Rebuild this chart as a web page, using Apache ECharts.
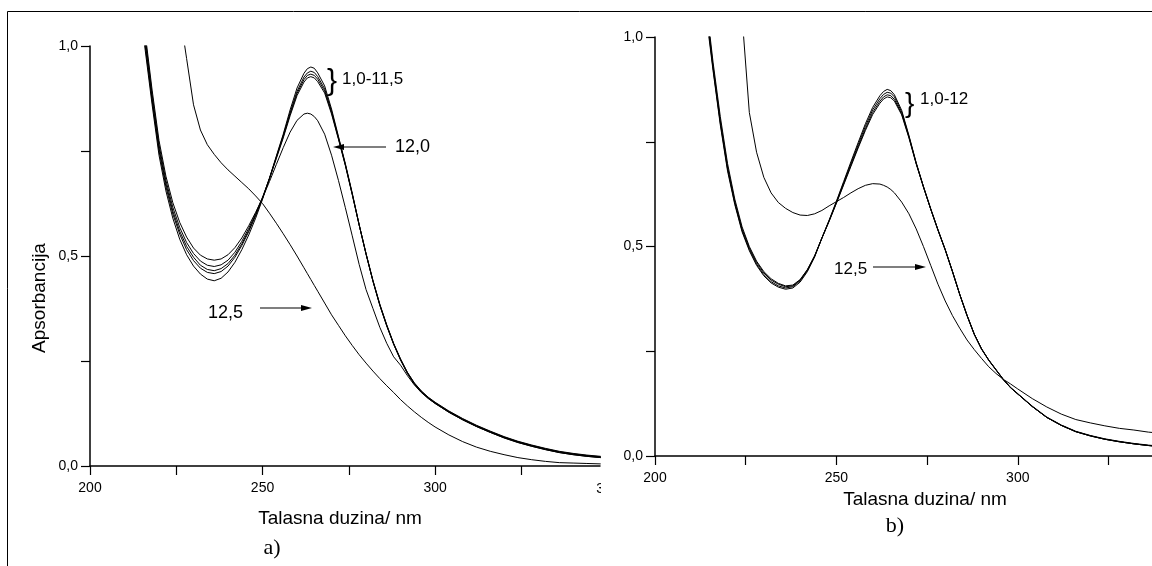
<!DOCTYPE html>
<html><head><meta charset="utf-8">
<script src="https://cdn.jsdelivr.net/npm/echarts@6/dist/echarts.min.js"></script>
<style>html,body{margin:0;padding:0;background:#fff}#c{width:1152px;height:566px}</style>
</head><body><div id="c"></div>
<script>
// wavelengths (nm)
const WAVELENGTH = [212,214,216,218,220,222,224,226,228,230,232,234,236,238,240,242,244,246,248,250,252,254,256,258,260,262,263,264,265,266,268,270,272,274,276,278,280,282,284,286,288,290,292,294,296,298,300,304,308,312,316,320,324,328,332,336,340,344,348];
const X_TICKS = [200,225,250,275,300,325];
const X_LABELS = [200,250,300];
const Y_TICKS = [0,0.25,0.5,0.75,1];
const Y_LABELS = [0,0.5,1];

// panel a) : pH 1,0-11,5 bundle
const A_BUNDLE_1 = [1.32,1.13,0.99,0.86,0.74,0.655,0.59,0.54,0.503,0.476,0.457,0.445,0.441,0.447,0.462,0.485,0.515,0.55,0.59,0.635,0.685,0.738,0.79,0.848,0.9,0.935,0.946,0.95,0.947,0.936,0.905,0.85,0.785,0.72,0.65,0.575,0.505,0.44,0.382,0.333,0.29,0.252,0.22,0.195,0.176,0.161,0.149,0.128,0.11,0.094,0.08,0.067,0.056,0.047,0.039,0.032,0.027,0.023,0.02];
const A_BUNDLE_2 = [1.34,1.14,1.0,0.87,0.75,0.665,0.6,0.552,0.515,0.489,0.471,0.461,0.458,0.463,0.476,0.497,0.525,0.558,0.596,0.637,0.685,0.736,0.787,0.842,0.892,0.926,0.936,0.94,0.937,0.927,0.898,0.845,0.782,0.718,0.648,0.574,0.504,0.44,0.383,0.334,0.29,0.253,0.221,0.196,0.177,0.162,0.15,0.129,0.111,0.095,0.081,0.068,0.057,0.048,0.04,0.033,0.028,0.024,0.021];
const A_BUNDLE_3 = [1.36,1.15,1.01,0.875,0.757,0.672,0.607,0.559,0.523,0.497,0.478,0.468,0.465,0.47,0.482,0.502,0.529,0.561,0.598,0.638,0.684,0.734,0.784,0.838,0.887,0.92,0.93,0.933,0.93,0.921,0.893,0.842,0.78,0.717,0.647,0.574,0.505,0.441,0.384,0.335,0.291,0.254,0.222,0.197,0.178,0.163,0.151,0.13,0.112,0.096,0.082,0.069,0.058,0.049,0.041,0.034,0.029,0.025,0.022];
const A_BUNDLE_4 = [1.38,1.16,1.02,0.885,0.765,0.68,0.616,0.568,0.532,0.506,0.488,0.478,0.475,0.479,0.49,0.509,0.535,0.566,0.601,0.64,0.684,0.732,0.781,0.834,0.882,0.914,0.924,0.927,0.924,0.915,0.888,0.838,0.778,0.715,0.646,0.574,0.506,0.442,0.385,0.336,0.292,0.255,0.223,0.198,0.179,0.164,0.152,0.131,0.113,0.097,0.083,0.07,0.059,0.05,0.042,0.035,0.03,0.026,0.023];
// panel a) : pH 12,0 and 12,5
const A_PH12_0 = [1.4,1.18,1.03,0.895,0.775,0.69,0.627,0.58,0.545,0.519,0.502,0.493,0.49,0.493,0.503,0.52,0.543,0.572,0.604,0.638,0.677,0.718,0.758,0.795,0.823,0.838,0.84,0.838,0.832,0.822,0.79,0.74,0.68,0.615,0.548,0.48,0.42,0.375,0.33,0.292,0.26,0.24,0.215,0.193,0.175,0.161,0.149,0.128,0.11,0.094,0.08,0.067,0.056,0.047,0.039,0.032,0.027,0.023,0.02];
const A_PH12_5 = [3.0,2.5,2.1,1.8,1.55,1.35,1.2,1.08,0.97,0.86,0.8,0.765,0.742,0.722,0.705,0.69,0.675,0.66,0.643,0.625,0.602,0.578,0.553,0.527,0.5,0.472,0.458,0.444,0.43,0.416,0.388,0.36,0.335,0.31,0.287,0.265,0.245,0.226,0.208,0.191,0.175,0.158,0.143,0.129,0.116,0.104,0.093,0.074,0.058,0.045,0.035,0.027,0.02,0.015,0.011,0.008,0.007,0.006,0.005];

// panel b) : pH 1,0-12 bundle
const B_BUNDLE_1 = [1.3,1.06,0.92,0.79,0.68,0.6,0.535,0.49,0.455,0.43,0.413,0.403,0.398,0.401,0.415,0.44,0.475,0.52,0.563,0.608,0.655,0.702,0.748,0.793,0.832,0.86,0.87,0.875,0.872,0.862,0.825,0.765,0.7,0.643,0.59,0.54,0.492,0.44,0.385,0.335,0.29,0.255,0.228,0.205,0.182,0.163,0.148,0.118,0.092,0.073,0.058,0.048,0.04,0.034,0.029,0.025,0.022,0.02,0.019];
const B_BUNDLE_2 = [1.32,1.07,0.925,0.795,0.685,0.603,0.538,0.493,0.458,0.433,0.416,0.406,0.401,0.404,0.418,0.442,0.476,0.52,0.562,0.606,0.652,0.698,0.743,0.787,0.826,0.853,0.863,0.868,0.866,0.857,0.821,0.763,0.699,0.643,0.59,0.54,0.493,0.441,0.386,0.336,0.291,0.256,0.229,0.206,0.183,0.164,0.149,0.119,0.093,0.074,0.059,0.049,0.041,0.035,0.03,0.026,0.023,0.021,0.02];
const B_BUNDLE_3 = [1.34,1.08,0.93,0.8,0.69,0.607,0.542,0.497,0.462,0.437,0.42,0.41,0.404,0.406,0.42,0.444,0.477,0.52,0.561,0.604,0.649,0.694,0.738,0.781,0.82,0.847,0.857,0.862,0.86,0.851,0.817,0.761,0.698,0.642,0.589,0.539,0.492,0.44,0.386,0.336,0.291,0.256,0.229,0.206,0.183,0.163,0.148,0.118,0.092,0.073,0.058,0.048,0.04,0.034,0.029,0.025,0.022,0.02,0.019];
const B_BUNDLE_4 = [1.36,1.09,0.94,0.81,0.698,0.613,0.547,0.5,0.465,0.44,0.423,0.412,0.406,0.408,0.421,0.445,0.478,0.52,0.56,0.603,0.647,0.691,0.735,0.777,0.815,0.842,0.852,0.857,0.855,0.847,0.814,0.759,0.697,0.642,0.589,0.539,0.492,0.44,0.386,0.336,0.291,0.256,0.229,0.206,0.183,0.163,0.148,0.118,0.092,0.073,0.058,0.048,0.04,0.034,0.029,0.025,0.022,0.02,0.019];
// panel b) : pH 12,5
const B_PH12_5 = [4,3.3,2.7,2.2,1.75,1.38,1.05,0.82,0.725,0.665,0.628,0.605,0.591,0.581,0.575,0.574,0.578,0.586,0.597,0.607,0.617,0.628,0.638,0.646,0.65,0.649,0.646,0.642,0.636,0.628,0.606,0.578,0.542,0.5,0.455,0.41,0.37,0.335,0.305,0.277,0.254,0.233,0.213,0.197,0.183,0.172,0.16,0.137,0.117,0.1,0.087,0.079,0.072,0.066,0.062,0.057,0.054,0.05,0.048];

const FONT = '"Liberation Sans", Arial, sans-serif';
const fmt = v => v.toFixed(1).replace('.', ',');

function xAxisCfg(grid, max) {
  return {
    type: 'value', gridIndex: grid, min: 200, max: max, interval: 25,
    axisLine: { show: true, onZero: false, lineStyle: { color: '#000', width: 1.5 } },
    axisTick: { show: true, length: 9, customValues: X_TICKS, lineStyle: { color: '#000', width: 1.2 } },
    axisLabel: { customValues: X_LABELS, color: '#000', fontFamily: FONT, fontSize: 14, margin: 15 },
    splitLine: { show: false }
  };
}
function yAxisCfg(grid) {
  return {
    type: 'value', gridIndex: grid, min: 0, max: 1, interval: 0.25,
    axisLine: { show: true, onZero: false, lineStyle: { color: '#000', width: 1.5 } },
    axisTick: { show: true, length: 9, customValues: Y_TICKS, lineStyle: { color: '#000', width: 1.2 } },
    axisLabel: { customValues: Y_LABELS, formatter: fmt, color: '#000', fontFamily: FONT, fontSize: 14, margin: 12 },
    splitLine: { show: false }
  };
}
function line(arr, axis) {
  return {
    type: 'line', xAxisIndex: axis, yAxisIndex: axis, showSymbol: false, clip: true, silent: true,
    lineStyle: { color: '#000', width: 1 },
    data: WAVELENGTH.map((w, i) => [w, arr[i]])
  };
}

const txt = (x, y, text, size, extra, rot) => ({
  type: 'text', x: x, y: y, rotation: rot || 0, silent: true,
  style: Object.assign({ text: text, fill: '#000', font: size + 'px ' + FONT, align: 'left', verticalAlign: 'middle' }, (extra || {}))
});
const arrow = (x1, x2, y) => {
  const dir = x2 > x1 ? 1 : -1;
  return [
    { type: 'line', silent: true, shape: { x1: x1, y1: y, x2: x2 - dir * 8, y2: y }, style: { stroke: '#000', lineWidth: 1.2 } },
    { type: 'polygon', silent: true, shape: { points: [[x2, y], [x2 - dir * 11, y - 3], [x2 - dir * 11, y + 3]] }, style: { fill: '#000' } }
  ];
};

const chart = echarts.init(document.getElementById('c'), null, { renderer: 'canvas' });
chart.setOption({
  animation: false,
  backgroundColor: '#fff',
  grid: [
    { left: 90, top: 46, width: 510, height: 420 },
    { left: 655, top: 37, width: 497, height: 419 }
  ],
  xAxis: [xAxisCfg(0, 347.8), xAxisCfg(1, 337)],
  yAxis: [yAxisCfg(0), yAxisCfg(1)],
  series: [
    line(A_BUNDLE_1, 0), line(A_BUNDLE_2, 0), line(A_BUNDLE_3, 0), line(A_BUNDLE_4, 0),
    line(A_PH12_0, 0), line(A_PH12_5, 0),
    line(B_BUNDLE_1, 1), line(B_BUNDLE_2, 1), line(B_BUNDLE_3, 1), line(B_BUNDLE_4, 1),
    line(B_PH12_5, 1)
  ],
  graphic: [
    { type: 'line', silent: true, shape: { x1: 7.5, y1: 11.5, x2: 1152, y2: 11.5 }, style: { stroke: '#000', lineWidth: 1 } },
    { type: 'line', silent: true, shape: { x1: 7.5, y1: 11.5, x2: 7.5, y2: 566 }, style: { stroke: '#000', lineWidth: 1 } },
    // truncated 350 label of panel a)
    txt(608, 489, '350', 14, { align: 'center' }),
    { type: 'rect', silent: true, shape: { x: 601, y: 476, width: 26, height: 24 }, style: { fill: '#fff' } },
    txt(40, 298, 'Apsorbancija', 19, { align: 'center' }, Math.PI / 2),
    txt(340, 519, 'Talasna duzina/ nm', 19, { align: 'center' }),
    txt(272, 548, 'a)', 22, { align: 'center', font: '22px "Liberation Serif", serif' }),
    txt(925, 500, 'Talasna duzina/ nm', 19, { align: 'center' }),
    txt(895, 526, 'b)', 22, { align: 'center', font: '22px "Liberation Serif", serif' }),
    // annotations panel a)
    txt(327, 82, '}', 30),
    txt(342, 79, '1,0-11,5', 17),
    txt(395, 147, '12,0', 18),
    ...arrow(386, 333, 147),
    txt(208, 313, '12,5', 18),
    ...arrow(260, 312, 308),
    // annotations panel b)
    txt(905, 104, '}', 28),
    txt(920, 99, '1,0-12', 17),
    txt(834, 269, '12,5', 17),
    ...arrow(873, 926, 267)
  ]
});
</script>
</body></html>
